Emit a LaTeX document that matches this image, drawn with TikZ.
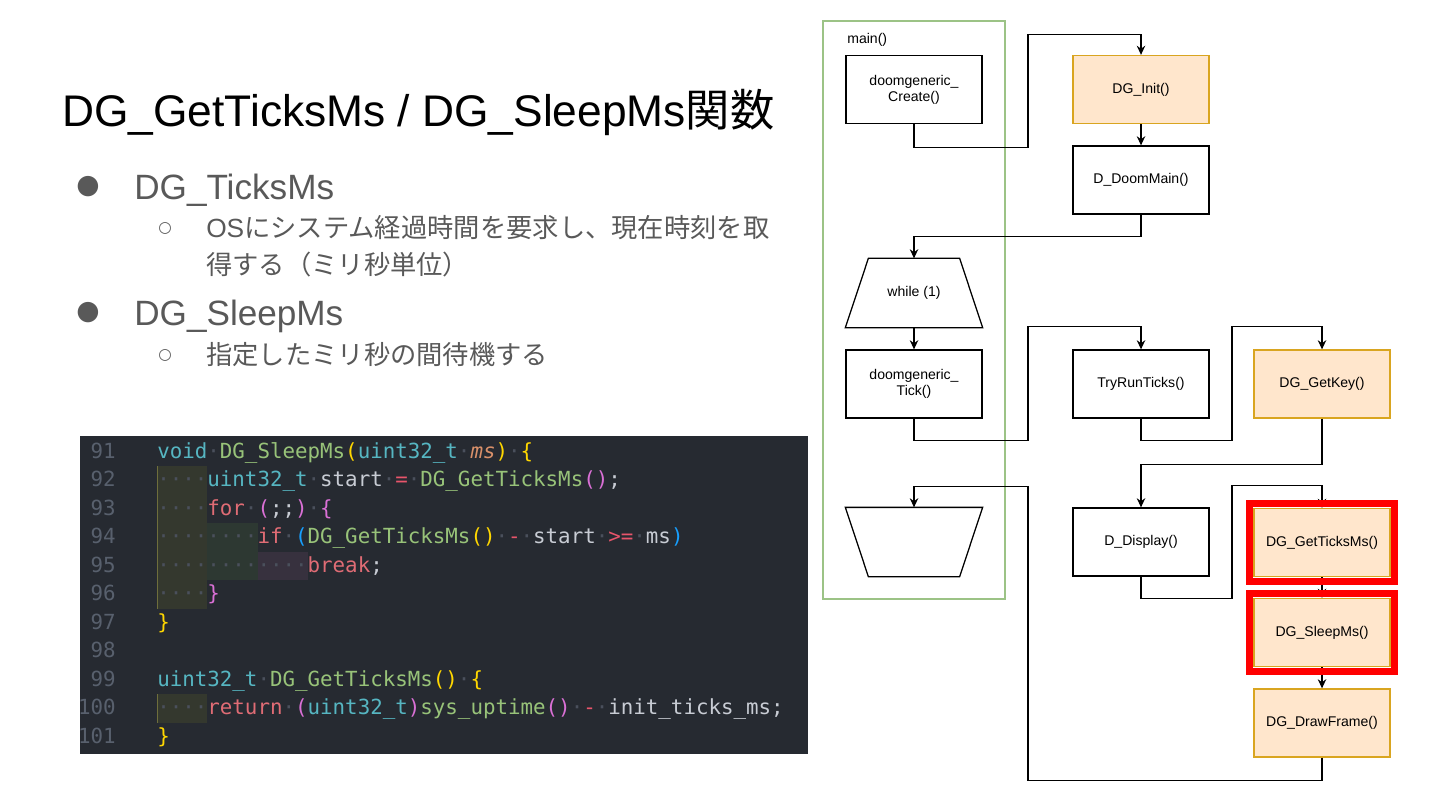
\documentclass[tikz,border=0pt]{standalone}
\usepackage{fontspec}
\setmainfont{Liberation Sans}
\setmonofont{DejaVu Sans Mono}
\newfontfamily\jpfont{Noto Sans CJK JP}
\newfontfamily\bulletfont{DejaVu Sans}
\usetikzlibrary{arrows.meta,fit}

\definecolor{slidegray}{HTML}{595959}
\definecolor{codebg}{HTML}{262A31}
\definecolor{linenum}{HTML}{58606D}
\definecolor{cdtype}{HTML}{56B6C2}
\definecolor{cdfunc}{HTML}{98C379}
\definecolor{cdkey}{HTML}{E06C75}
\definecolor{cdop}{HTML}{E8556B}
\definecolor{cdid}{HTML}{C8CCD4}
\definecolor{cdparam}{HTML}{D9906A}
\definecolor{cdgold}{HTML}{FFD700}
\definecolor{cdorchid}{HTML}{DA70D6}
\definecolor{cdblue}{HTML}{179FFF}
\definecolor{cdws}{HTML}{4A505C}
\definecolor{indentA}{HTML}{34382E}
\definecolor{indentB}{HTML}{2D3832}
\definecolor{indentC}{HTML}{37313E}
\definecolor{guideA}{HTML}{6E6E3C}
\definecolor{mainframe}{HTML}{9CC386}
\definecolor{peachfill}{HTML}{FFE6CC}
\definecolor{peachdraw}{HTML}{D9A520}

% code colouring
\newcommand\cTy[1]{\textcolor{cdtype}{#1}}
\newcommand\cFn[1]{\textcolor{cdfunc}{#1}}
\newcommand\cKw[1]{\textcolor{cdkey}{#1}}
\newcommand\cOp[1]{\textcolor{cdop}{#1}}
\newcommand\cId[1]{\textcolor{cdid}{#1}}
\newcommand\cPr[1]{\textcolor{cdparam}{\itshape #1}}
\newcommand\cGo[1]{\textcolor{cdgold}{#1}}
\newcommand\cOr[1]{\textcolor{cdorchid}{#1}}
\newcommand\cBl[1]{\textcolor{cdblue}{#1}}
\newcommand\cWs{\textcolor{cdws}{·}}
\newcommand\cIn{\cWs\cWs\cWs\cWs}

\tikzset{
  title/.style={anchor=base west, inner sep=0, font=\fontsize{31.5}{36}\selectfont},
  itemA/.style={anchor=base west, inner sep=0, text=slidegray, font=\fontsize{25}{30}\selectfont},
  itemB/.style={anchor=base west, inner sep=0, text=slidegray, align=left, font=\fontsize{18.7}{26.2}\selectfont},
  dotA/.style={inner sep=0, text=slidegray, font=\bulletfont\fontsize{19}{19}\selectfont},
  dotB/.style={inner sep=0, text=slidegray, font=\bulletfont\fontsize{11}{11}\selectfont},
  codeline/.style={anchor=base west, inner sep=0, text=cdid, font=\ttfamily\fontsize{14.8}{17}\selectfont},
  lineno/.style={anchor=base east, inner sep=0, text=linenum, font=\ttfamily\fontsize{14.8}{17}\selectfont},
  fbox/.style={draw, line width=0.9pt, minimum width=3.4cm, minimum height=1.7cm, inner sep=0, align=center, font=\fontsize{10}{11.5}\selectfont},
  dgbox/.style={fbox, fill=peachfill, draw=peachdraw},
  loopbox/.style={fbox, draw=none},
  loopline/.style={line width=0.9pt, line join=miter},
  flow/.style={line width=0.9pt, -{Stealth[length=6.5pt,width=6pt]}},
  redframe/.style={draw=red, line width=5pt, inner sep=2.8pt},
}

\begin{document}
\begin{tikzpicture}[x=0.025cm,y=-0.025cm]
\useasboundingbox (0,0) rectangle (1440,810);

% left text
\node[title] (head) at (62,126) {DG\_GetTicksMs / DG\_SleepMs{\jpfont 関数}};
\node[dotA] (b1) at (88,187) {●};
\node[itemA] (ticks) at (134,199) {DG\_TicksMs};
\node[dotB] (b1a) at (165,228) {○};
\node[itemB] (ticksdesc) at (206,274) {OS{\jpfont にシステム経過時間を要求し、現在時刻を取}\\{\jpfont 得する（ミリ秒単位）}};
\node[dotA] (b2) at (88,313) {●};
\node[itemA] (sleep) at (134,325) {DG\_SleepMs};
\node[dotB] (b2a) at (165,355) {○};
\node[itemB] (sleepdesc) at (206,364) {\jpfont 指定したミリ秒の間待機する};

% code
\fill[codebg] (80,436) rectangle (808,754);
\fill[indentA] (157,466) rectangle (207.4,608.5);
\fill[indentA] (157,694) rectangle (207.4,723);
\fill[indentB] (207.4,523) rectangle (257.8,580);
\fill[indentC] (257.8,551.5) rectangle (308.2,580);
\draw[guideA, line width=0.6pt] (157.5,466) -- (157.5,608.5);
\draw[guideA, line width=0.6pt] (157.5,694) -- (157.5,723);
\foreach \n [count=\i from 0] in {91,...,101}
  \node[lineno] (num\n) at (116,458+\i*28.55) {\n};
\node[codeline] (code91) at (157,458) {\cTy{void}\cWs\cFn{DG\_SleepMs}\cGo{(}\cTy{uint32\_t}\cWs\cPr{ms}\cGo{)}\cWs\cGo{\{}};
\node[codeline] (code92) at (157,486.55) {\cIn\cTy{uint32\_t}\cWs\cId{start}\cWs\cOp{=}\cWs\cFn{DG\_GetTicksMs}\cOr{()}\cId{;}};
\node[codeline] (code93) at (157,515.1) {\cIn\cKw{for}\cWs\cOr{(}\cId{;;}\cOr{)}\cWs\cOr{\{}};
\node[codeline] (code94) at (157,543.65) {\cIn\cIn\cKw{if}\cWs\cBl{(}\cFn{DG\_GetTicksMs}\cGo{()}\cWs\cOp{-}\cWs\cId{start}\cWs\cOp{>=}\cWs\cId{ms}\cBl{)}};
\node[codeline] (code95) at (157,572.2) {\cIn\cIn\cIn\cKw{break}\cId{;}};
\node[codeline] (code96) at (157,600.75) {\cIn\cOr{\}}};
\node[codeline] (code97) at (157,629.3) {\cGo{\}}};
\node[codeline] (code99) at (157,686.4) {\cTy{uint32\_t}\cWs\cFn{DG\_GetTicksMs}\cGo{()}\cWs\cGo{\{}};
\node[codeline] (code100) at (157,714.95) {\cIn\cKw{return}\cWs\cOr{(}\cTy{uint32\_t}\cOr{)}\cFn{sys\_uptime}\cOr{()}\cWs\cOp{-}\cWs\cId{init\_ticks\_ms;}};
\node[codeline] (code101) at (157,743.5) {\cGo{\}}};

% flow chart
\draw[mainframe, line width=1.4pt] (823,21) rectangle (1005,599);
\node[anchor=west, inner sep=0, font=\fontsize{10}{11.5}\selectfont] (mainlbl) at (847,40) {main()};

\node[fbox] (create) at (914,89.5) {doomgeneric\_\\Create()};
\node[dgbox] (init) at (1141,89.5) {DG\_Init()};
\node[fbox] (doommain) at (1141,180) {D\_DoomMain()};
\node[loopbox] (while) at (914,293) {while (1)};
\draw[loopline] ([xshift=0.575cm]while.north west) -- ([xshift=-0.575cm]while.north east)
  -- (while.south east) -- (while.south west) -- cycle;
\node[fbox] (tick) at (914,384) {doomgeneric\_\\Tick()};
\node[fbox] (tryrun) at (1141,384) {TryRunTicks()};
\node[dgbox] (getkey) at (1322,384) {DG\_GetKey()};
\node[loopbox] (loopend) at (914,542) {};
\draw[loopline] (loopend.north west) -- (loopend.north east)
  -- ([xshift=-0.575cm]loopend.south east) -- ([xshift=0.575cm]loopend.south west) -- cycle;
\node[fbox] (display) at (1141,542) {D\_Display()};
\node[dgbox] (getticks) at (1322,542.5) {DG\_GetTicksMs()};
\node[dgbox] (sleepms) at (1322,632.5) {DG\_SleepMs()};
\node[dgbox] (drawframe) at (1322,723) {DG\_DrawFrame()};

\draw[flow] (create.south) -- ++(0,23) -| ++(114,-113) -| (init.north);
\draw[flow] (init) -- (doommain);
\draw[flow] (doommain.south) -- ++(0,22) -| (while.north);
\draw[flow] (while) -- (tick);
\draw[flow] (tick.south) -- ++(0,22) -| ++(114,-114) -| (tryrun.north);
\draw[flow] (tryrun.south) -- ++(0,22) -| ++(91,-114) -| (getkey.north);
\draw[flow] (getkey.south) -- ++(0,46) -| (display.north);
\draw[flow] (display.south) -- ++(0,22) -| ++(91,-113) -| (getticks.north);
\draw[flow] (getticks) -- (sleepms);
\draw[flow] (sleepms) -- (drawframe);
\draw[flow] (drawframe.south) -- ++(0,23) -| ++(-294,-294) -| (loopend.north);

\node[redframe, fit=(getticks)] (markticks) {};
\node[redframe, fit=(sleepms)] (marksleep) {};
\end{tikzpicture}
\end{document}
